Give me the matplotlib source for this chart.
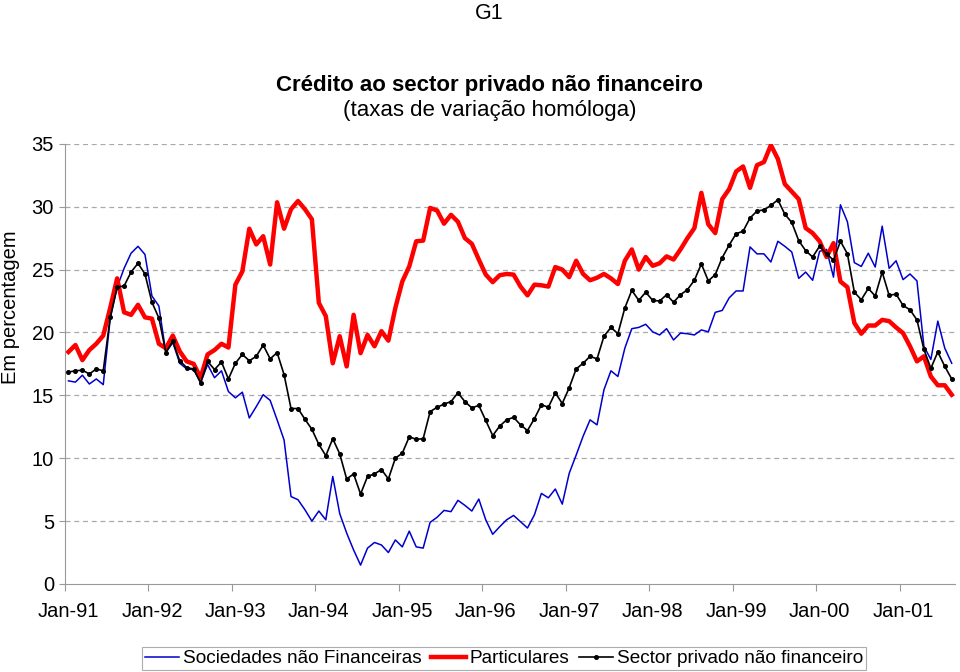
import numpy as np
import matplotlib
matplotlib.use("Agg")
import matplotlib.pyplot as plt

plt.rcParams['font.family'] = ['Liberation Sans', 'DejaVu Sans']

# monthly data, Jan-91 .. Aug-01
sociedades = [16.15, 16.05, 16.6, 15.9, 16.3, 15.85, 21.1, 23.6, 25.1, 26.3, 26.85, 26.2,
              22.9, 22.1, 18.4, 19.2, 17.55, 17.1, 17.05, 16.0, 17.45, 16.4, 16.95, 15.3,
              14.8, 15.25, 13.2, 14.1, 15.05, 14.6, 13.05, 11.45, 6.95, 6.7, 5.9, 5.0,
              5.8, 5.1, 8.55, 5.6, 4.05, 2.7, 1.5, 2.85, 3.3, 3.1, 2.5, 3.5,
              2.95, 4.2, 2.95, 2.85, 4.9, 5.3, 5.85, 5.75, 6.65, 6.25, 5.8, 6.75,
              5.1, 3.95, 4.55, 5.1, 5.45, 4.95, 4.45, 5.5, 7.2, 6.85, 7.55, 6.35,
              8.8, 10.25, 11.75, 13.05, 12.65, 15.45, 16.95, 16.5, 18.75, 20.3, 20.4, 20.65,
              20.05, 19.8, 20.3, 19.4, 19.95, 19.9, 19.8, 20.2, 20.05, 21.6, 21.75, 22.75,
              23.3, 23.3, 26.8, 26.25, 26.25, 25.6, 27.25, 26.85, 26.4, 24.3, 24.8, 24.15,
              26.45, 26.6, 24.4, 30.15, 28.8, 25.55, 25.25, 26.3, 25.2, 28.45, 25.1, 25.7,
              24.2, 24.65, 24.1, 18.9, 17.85, 20.9, 18.75, 17.55]

particulares = [18.45, 19.0, 17.8, 18.6, 19.1, 19.75, 21.95, 24.3, 21.6, 21.4, 22.2, 21.2,
                21.1, 19.1, 18.75, 19.75, 18.5, 17.7, 17.5, 16.4, 18.25, 18.6, 19.1, 18.8,
                23.8, 24.85, 28.25, 27.0, 27.65, 25.4, 30.35, 28.25, 29.8, 30.45, 29.8, 29.0,
                22.35, 21.3, 17.55, 19.7, 17.3, 21.4, 18.35, 19.8, 18.9, 20.1, 19.35, 21.95,
                24.05, 25.25, 27.25, 27.3, 29.9, 29.7, 28.65, 29.35, 28.8, 27.5, 27.05, 25.8,
                24.6, 24.0, 24.55, 24.65, 24.6, 23.65, 22.95, 23.8, 23.75, 23.65, 25.2, 25.0,
                24.4, 25.7, 24.65, 24.15, 24.35, 24.65, 24.3, 23.85, 25.7, 26.6, 25.0, 26.0,
                25.3, 25.5, 26.05, 25.8, 26.6, 27.5, 28.3, 31.1, 28.6, 27.9, 30.6, 31.4,
                32.8, 33.2, 31.5, 33.3, 33.55, 34.9, 33.8, 31.8, 31.2, 30.6, 28.3, 27.9,
                27.25, 26.0, 27.1, 24.05, 23.6, 20.75, 19.9, 20.55, 20.55, 21.0, 20.9, 20.4,
                19.95, 18.9, 17.7, 18.1, 16.5, 15.8, 15.8, 15.05]

sector = [16.85, 16.95, 17.0, 16.7, 17.1, 16.95, 21.2, 23.6, 23.7, 24.8, 25.5, 24.65,
          22.4, 21.15, 18.4, 19.3, 17.75, 17.2, 17.1, 16.0, 17.7, 17.05, 17.65, 16.3,
          17.55, 18.25, 17.75, 18.1, 19.0, 17.9, 18.4, 16.65, 13.95, 13.95, 13.1, 12.3,
          11.1, 10.2, 11.55, 10.35, 8.35, 8.75, 7.15, 8.55, 8.75, 9.1, 8.35, 10.0,
          10.4, 11.7, 11.5, 11.55, 13.7, 14.05, 14.3, 14.5, 15.2, 14.5, 14.0, 14.2,
          13.0, 11.8, 12.55, 13.05, 13.25, 12.65, 12.2, 13.15, 14.25, 14.05, 15.2, 14.35,
          15.6, 17.1, 17.55, 18.1, 17.9, 19.7, 20.4, 19.9, 21.95, 23.35, 22.55, 23.2,
          22.55, 22.5, 23.0, 22.4, 23.0, 23.4, 24.15, 25.45, 24.1, 24.6, 25.95, 26.95,
          27.85, 28.05, 29.1, 29.65, 29.75, 30.1, 30.55, 29.4, 28.75, 27.3, 26.5, 26.0,
          26.85, 26.25, 25.75, 27.25, 26.25, 23.2, 22.6, 23.5, 22.9, 24.8, 22.95, 23.05,
          22.15, 21.8, 21.0, 18.65, 17.15, 18.45, 17.3, 16.3]

anos = ['Jan-91', 'Jan-92', 'Jan-93', 'Jan-94', 'Jan-95', 'Jan-96',
        'Jan-97', 'Jan-98', 'Jan-99', 'Jan-00', 'Jan-01']

x = np.arange(len(sector))

fig = plt.figure(figsize=(9.6, 6.72), dpi=100)
ax = fig.add_axes([0.0677, 0.131, 0.9273, 0.655])

ax.plot(x, sociedades, color='#0000CC', lw=1.1, label='Sociedades não Financeiras')
ax.plot(x, particulares, color='#FF0000', lw=3.2, label='Particulares')
ax.plot(x, sector, color='black', lw=1.2, marker='o', ms=2.6,
        label='Sector privado não financeiro')

ax.set_xlim(-0.5, len(x) - 0.5)
ax.set_ylim(0, 35)
ax.set_yticks(range(0, 36, 5))
ax.set_xticks(np.arange(-0.5, len(x), 12))
ax.set_xticklabels([])
ax.set_xticks(np.arange(0, len(x), 12), minor=True)
ax.set_xticklabels(anos, minor=True)
ax.tick_params(axis='x', which='minor', length=0, pad=13, labelsize=14.5)
ax.tick_params(axis='x', which='major', length=5, color='#999999')
ax.tick_params(axis='y', length=4, color='#999999', labelsize=14.5, pad=4)

for v in range(5, 36, 5):
    ax.axhline(v, color='#AAAAAA', lw=0.9, ls=(0, (4, 3)), zorder=0)

for s in ['top', 'right']:
    ax.spines[s].set_visible(False)
for s in ['left', 'bottom']:
    ax.spines[s].set_color('#999999')

fig.text(0.011, 0.543, 'Em percentagem', rotation=90, ha='center', va='center',
         fontsize=14.5)

fig.text(0.51, 0.995, 'G1', ha='center', va='top', fontsize=15.5)
fig.text(0.51, 0.873, 'Crédito ao sector privado não financeiro', ha='center',
         va='center', fontsize=16, fontweight='bold')
fig.text(0.51, 0.836, '(taxas de variação homóloga)', ha='center', va='center',
         fontsize=16)

leg = fig.legend(loc='lower center', bbox_to_anchor=(0.525, 0.0), ncol=3,
                 fontsize=13.7, frameon=True, fancybox=False, edgecolor='#999999',
                 handlelength=1.8, handletextpad=0.2, columnspacing=0.5,
                 borderpad=0.15, borderaxespad=0.1)
leg.get_frame().set_linewidth(0.8)

fig.savefig('out.png', dpi=100)
